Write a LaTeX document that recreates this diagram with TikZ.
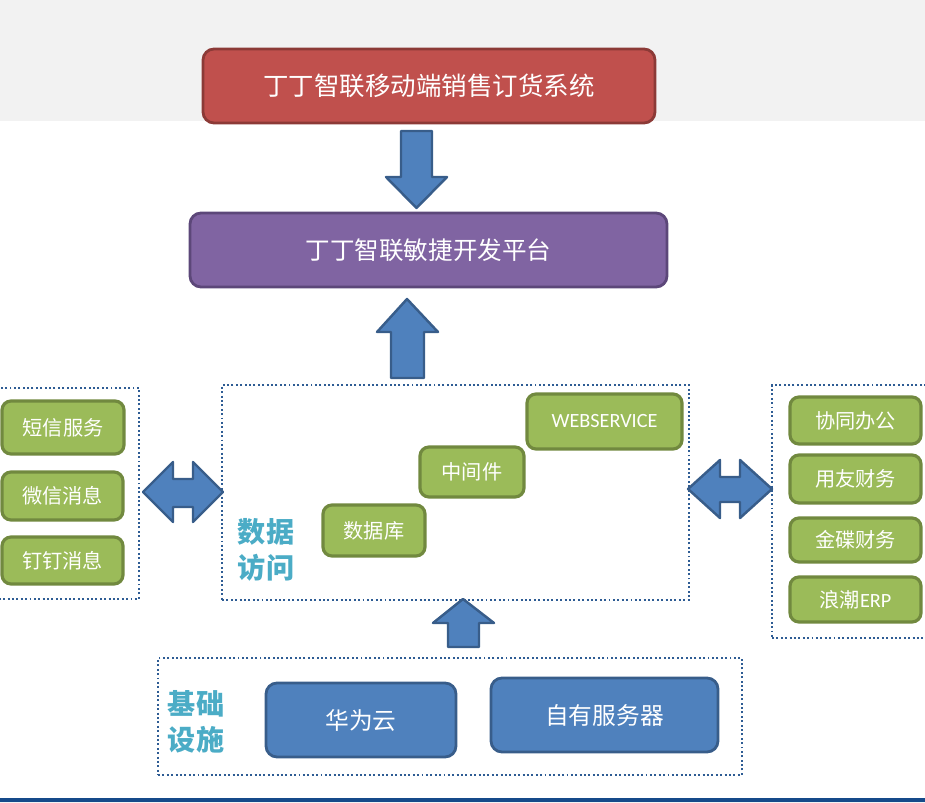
\documentclass[tikz,border=0pt]{standalone}
\usepackage{fontspec}
\setmainfont{Noto Sans CJK SC}
\newfontfamily\latfont{Carlito}
\usepackage{tikz}
\usetikzlibrary{positioning}

\definecolor{bandgray}{HTML}{F2F2F2}
\definecolor{sysred}{HTML}{C0504D}
\definecolor{sysredline}{HTML}{8C3A37}
\definecolor{platpurple}{HTML}{8064A2}
\definecolor{platline}{HTML}{5C4779}
\definecolor{modgreen}{HTML}{9BBB59}
\definecolor{modline}{HTML}{71893F}
\definecolor{srvblue}{HTML}{4F81BD}
\definecolor{srvline}{HTML}{385D8A}
\definecolor{groupline}{HTML}{2E5C94}
\definecolor{labelteal}{HTML}{4BACC6}
\definecolor{barblue}{HTML}{154A8A}

\newcommand{\pxu}{0.02cm}

\tikzset{
  box/.style={draw, line width=1.6pt, rounded corners=0.22cm, text=white,
    inner sep=0pt, align=center},
  sysbox/.style={box, fill=sysred, draw=sysredline, font=\fontsize{14.5}{17}\selectfont},
  platbox/.style={box, fill=platpurple, draw=platline, font=\fontsize{14}{17}\selectfont},
  modbox/.style={box, fill=modgreen, draw=modline, line width=1.8pt, rounded corners=0.18cm,
    font=\fontsize{11.5}{14}\selectfont},
  srvbox/.style={box, fill=srvblue, draw=srvline, font=\fontsize{13.5}{16}\selectfont},
  group/.style={draw=groupline, line width=1.1pt, dash pattern=on 1.1pt off 1.4pt,
    inner sep=0pt},
  grouplabel/.style={text=labelteal, align=center, font=\bfseries\fontsize{16}{20.5}\selectfont},
  blockarrow/.style={fill=srvblue, draw=srvline, line width=1.4pt, line join=round}
}

\begin{document}
\begin{tikzpicture}[x=0.02cm, y=-0.02cm]
\useasboundingbox (0,0) rectangle (925,803);
\clip (0,0) rectangle (925,803);
\fill[bandgray] (0,0) rectangle (925,121);
\fill[barblue] (0,798) rectangle (925,802);
\fill[bandgray] (0,802) rectangle (925,803);

% top layers
\node[sysbox, minimum width=452*\pxu, minimum height=74*\pxu] (sys) at (429,86) {丁丁智联移动端销售订货系统};
\node[platbox, minimum width=477*\pxu, minimum height=74*\pxu] (plat) at (428.5,250) {丁丁智联敏捷开发平台};

% groups
\node[group, minimum width=467*\pxu, minimum height=215*\pxu] (access) at (455.5,492.5) {};
\node[group, minimum width=149*\pxu, minimum height=211*\pxu] (msg) at (64.5,493.5) {};
\node[group, minimum width=168*\pxu, minimum height=253*\pxu] (erp) at (856,511.5) {};
\node[group, minimum width=584*\pxu, minimum height=117*\pxu] (infra) at (450,716.5) {};

% data access
\node[modbox, minimum width=155*\pxu, minimum height=55*\pxu] (web) at (604.5,421.5) {\latfont WEBSERVICE};
\node[modbox, minimum width=104*\pxu, minimum height=50*\pxu] (mid) at (472,472) {中间件};
\node[modbox, minimum width=102*\pxu, minimum height=51*\pxu] (db) at (374,530.5) {数据库};
\node[grouplabel] (acclabel) at (266,550) {数据\\访问};

% messages
\node[modbox, minimum width=122*\pxu, minimum height=53*\pxu] (sms) at (63,427.5) {短信服务};
\node[modbox, minimum width=121*\pxu, minimum height=48*\pxu] (wx) at (62.5,496) {微信消息};
\node[modbox, minimum width=121*\pxu, minimum height=47*\pxu] (dd) at (62.5,560.5) {钉钉消息};

% finance systems
\node[modbox, minimum width=131*\pxu, minimum height=47*\pxu] (oa) at (855.5,420.5) {协同办公};
\node[modbox, minimum width=131*\pxu, minimum height=48*\pxu] (yy) at (855.5,479) {用友财务};
\node[modbox, minimum width=131*\pxu, minimum height=44*\pxu] (jd) at (855.5,540) {金碟财务};
\node[modbox, minimum width=131*\pxu, minimum height=45*\pxu] (lc) at (855.5,599.5) {浪潮{\latfont ERP}};

% infrastructure
\node[srvbox, minimum width=190*\pxu, minimum height=74*\pxu] (hw) at (361,720) {华为云};
\node[srvbox, minimum width=227*\pxu, minimum height=74*\pxu] (own) at (604.5,715) {自有服务器};
\node[grouplabel] (inflabel) at (196,722) {基础\\设施};

% block arrows
\draw[blockarrow] (401,131) -- (432,131) -- (432,177) -- (447,177) -- (416.5,208)
  -- (386,177) -- (401,177) -- cycle;
\draw[blockarrow] (407,299) -- (438,332) -- (424,332) -- (424,378) -- (391,378)
  -- (391,332) -- (377,332) -- cycle;
\draw[blockarrow] (463,599) -- (494,623) -- (479,623) -- (479,647) -- (448,647)
  -- (448,623) -- (433,623) -- cycle;
\draw[blockarrow] (143,492) -- (173,462) -- (173,479) -- (193,479) -- (193,462)
  -- (223,492) -- (193,522) -- (193,507) -- (173,507) -- (173,522) -- cycle;
\draw[blockarrow] (688,489) -- (720,460) -- (720,477) -- (740,477) -- (740,460)
  -- (772,489) -- (740,518) -- (740,502) -- (720,502) -- (720,518) -- cycle;
\end{tikzpicture}
\end{document}
